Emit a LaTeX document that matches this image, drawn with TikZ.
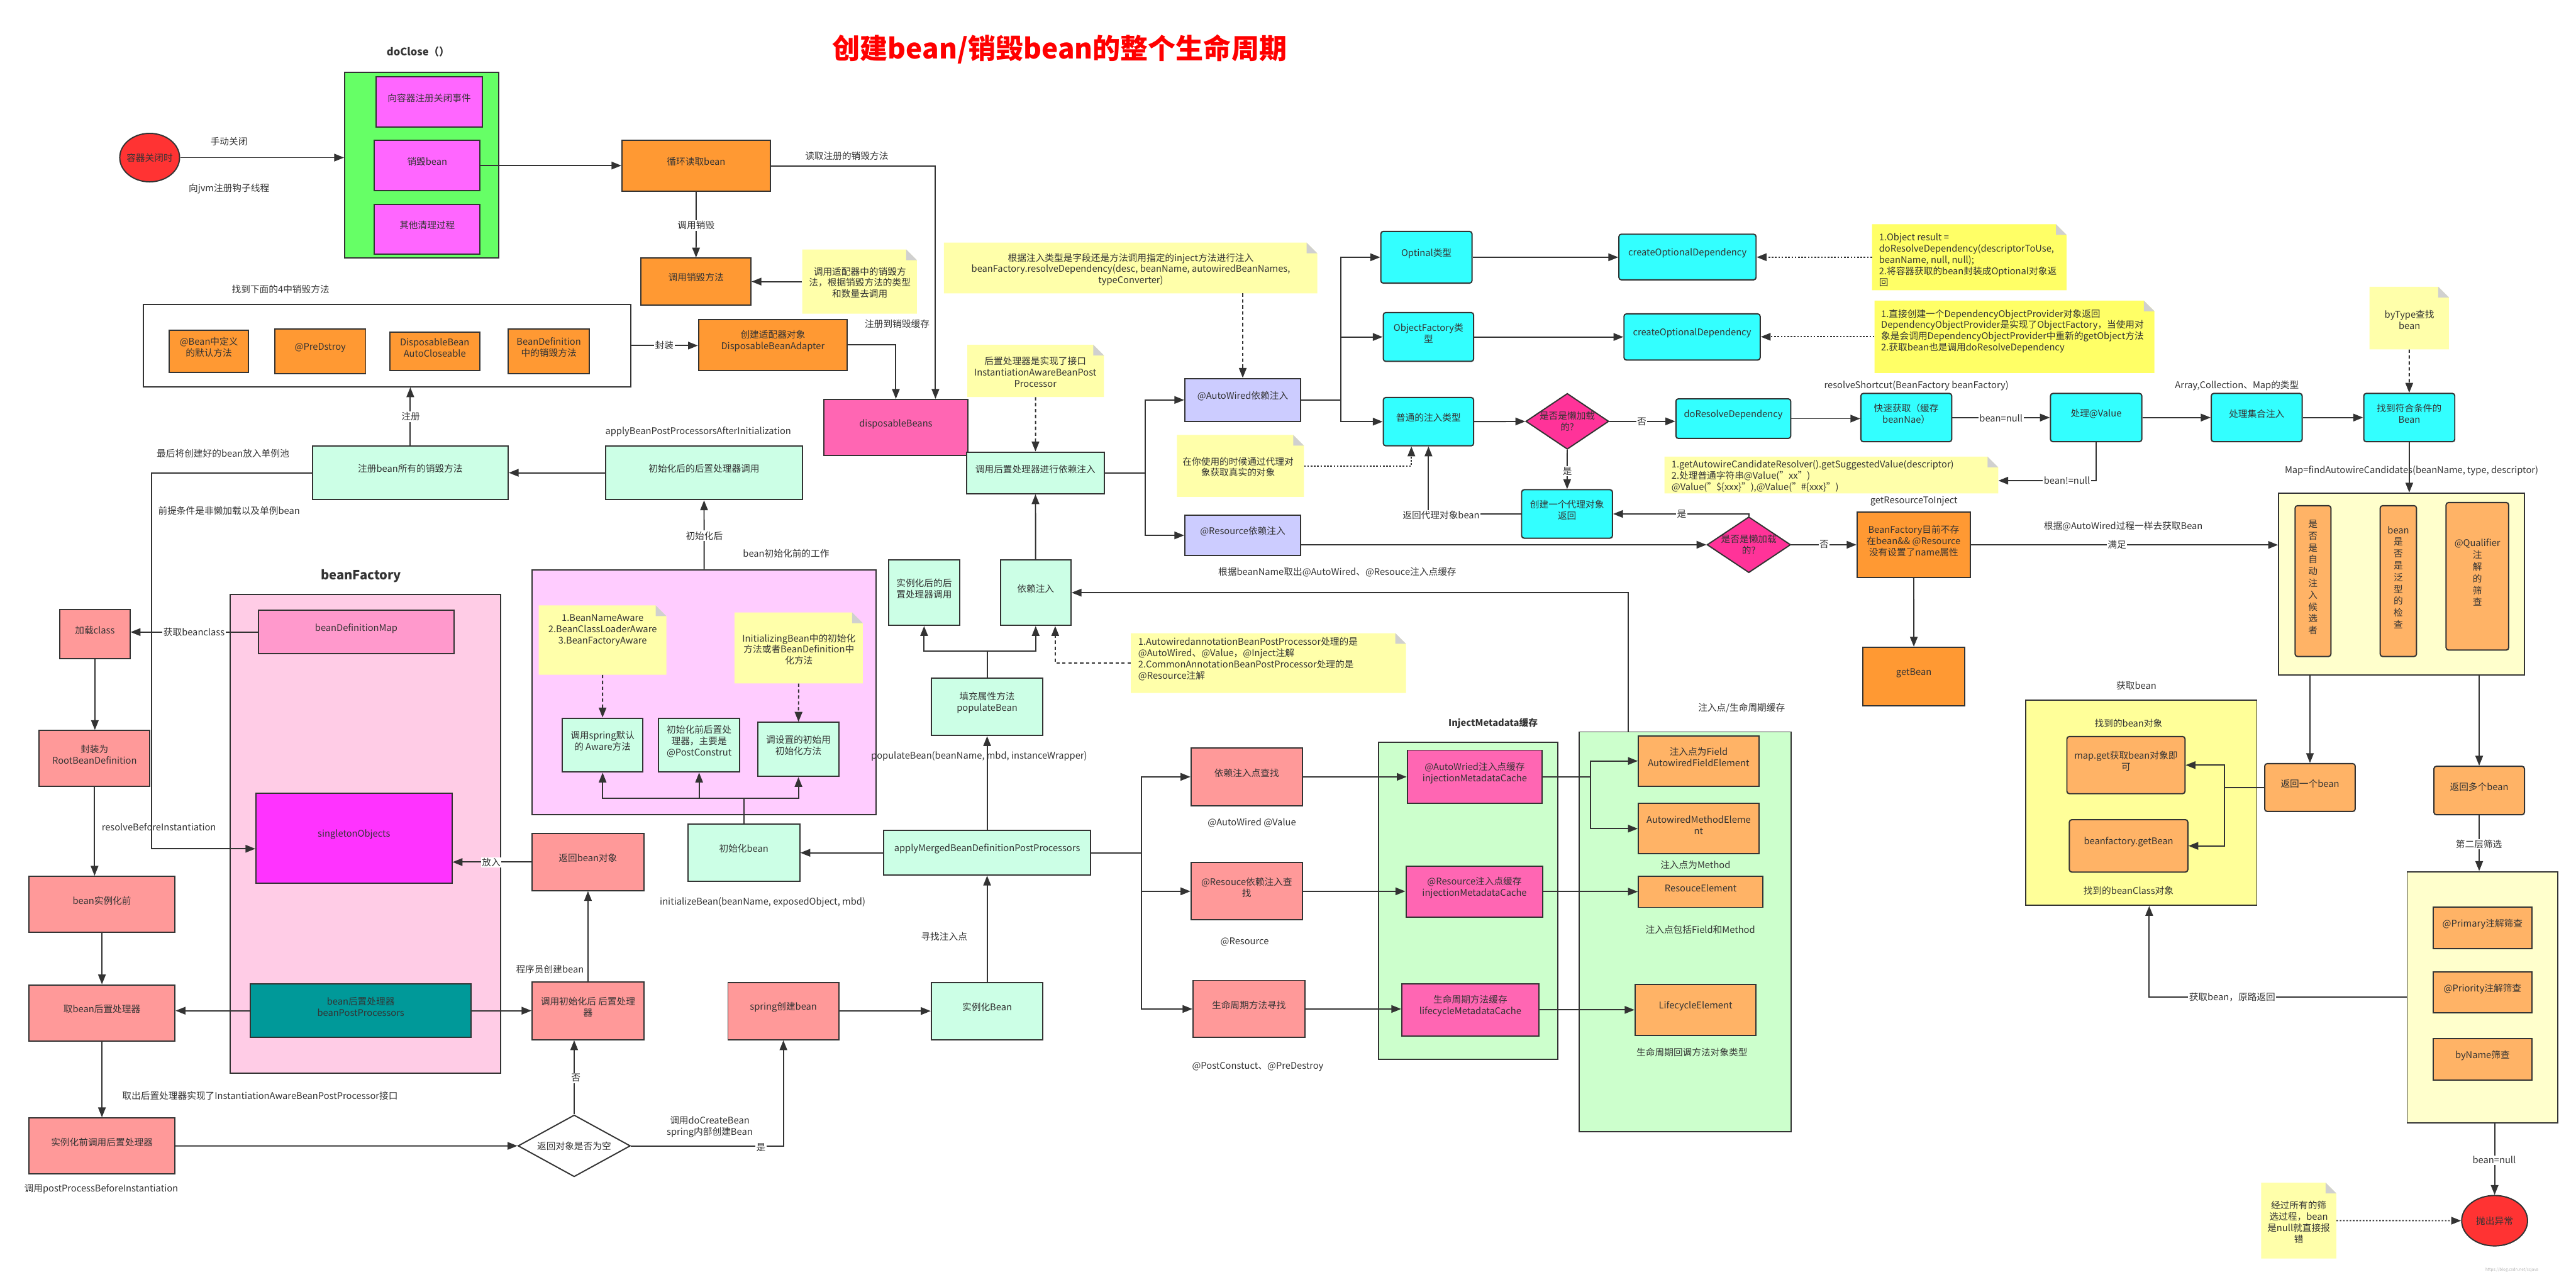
\documentclass[tikz,border=0pt]{standalone}
\usepackage{fontspec}
\setmainfont{Noto Sans CJK SC}
\usetikzlibrary{arrows.meta,fit,shapes.geometric}
\definecolor{lc}{HTML}{333333}
\definecolor{tc}{HTML}{333333}
\definecolor{cGreen}{HTML}{66FF66}
\definecolor{cMag}{HTML}{FF66FF}
\definecolor{cRed}{HTML}{FF3333}
\definecolor{cOr}{HTML}{FF9933}
\definecolor{cLor}{HTML}{FFB366}
\definecolor{cNote}{HTML}{FFFFAA}
\definecolor{cNoteB}{HTML}{FFFF66}
\definecolor{cFold}{HTML}{D0D0D0}
\definecolor{cMint}{HTML}{CCFFE6}
\definecolor{cSal}{HTML}{FF9999}
\definecolor{cPinkC}{HTML}{FFCCE6}
\definecolor{cBdm}{HTML}{FF99CC}
\definecolor{cSing}{HTML}{FF33FF}
\definecolor{cTeal}{HTML}{009999}
\definecolor{cLil}{HTML}{FFCCFF}
\definecolor{cHot}{HTML}{FF66B3}
\definecolor{cLav}{HTML}{CCCCFF}
\definecolor{cCyan}{HTML}{33FFFF}
\definecolor{cDia}{HTML}{FF3399}
\definecolor{cLg}{HTML}{CCFFCC}
\definecolor{cY1}{HTML}{FFFFCC}
\definecolor{cY2}{HTML}{FFFF99}
\newcommand\fs{\fontsize{16}{19.5}\selectfont}
\newcommand\fsv{\fontsize{16}{20.5}\selectfont}
\newcommand\mybox[7]{\node[#2, fit={(#3,#4) (#5,#6)}] (#1) {#7};}
\newcommand\mynote[6]{%
  \fill[#6] (#2,#3) -- (#4-6.5,#3) -- (#4,#3+6.5) -- (#4,#5) -- (#2,#5) -- cycle;
  \fill[cFold] (#4-6.5,#3) -- (#4-6.5,#3+6.5) -- (#4,#3+6.5) -- cycle;
  \node[inner sep=0pt, fit={(#2,#3) (#4,#5)}] (#1) {};}
\begin{document}
\begin{tikzpicture}[x=1mm,y=-1mm,
  bx/.style={draw=lc, line width=0.75mm, inner sep=0pt, align=center, font=\fs, text=tc},
  sOr/.style={bx, fill=cOr},
  sLor/.style={bx, fill=cLor},
  sLorR/.style={bx, fill=cLor, rounded corners=1.5mm},
  sMint/.style={bx, fill=cMint},
  sSal/.style={bx, fill=cSal},
  sMag/.style={bx, fill=cMag},
  sHot/.style={bx, fill=cHot},
  sLav/.style={bx, fill=cLav},
  sCy/.style={bx, fill=cCyan, rounded corners=1.5mm},
  arr/.style={draw=lc, line width=0.75mm, -{Triangle[length=6mm,width=4.6mm]}},
  dsh/.style={arr, dash pattern=on 2mm off 1.6mm},
  dotl/.style={arr, dash pattern=on 1mm off 1mm},
  lbl/.style={font=\fs, text=tc, inner sep=0.6mm, align=center},
  wl/.style={lbl, fill=white},
  ntx/.style={font=\fs, text=tc, inner sep=0pt, align=center}]
\fill[white] (0,0) rectangle (1568,777);
\useasboundingbox (0,0) rectangle (1568,777);

% ---------------- titles
\node[font=\fontsize{48}{52}\selectfont\bfseries, text=red] (title) at (645,29.8) {创建bean/销毁bean的整个生命周期};
\node[font=\fontsize{18}{20}\selectfont\bfseries, text=tc] (tdc) at (254.5,31.5) {doClose（）};
\node[font=\fontsize{22}{24}\selectfont\bfseries, text=tc] (tbf) at (219.8,350.5) {beanFactory};
\node[font=\fontsize{16}{18}\selectfont\bfseries, text=tc] (tim) at (908.8,440.0) {InjectMetadata缓存};

% ---------------- containers
\mybox{g}{bx, fill=cGreen}{209.8}{44.2}{303.5}{157.1}{}
\mybox{four}{bx, fill=white}{87.4}{185.3}{383.9}{235.3}{}
\mybox{bf}{bx, fill=cPinkC}{140.2}{361.8}{304.8}{652.9}{}
\mybox{lil}{bx, fill=cLil}{323.9}{346.7}{533.3}{495.6}{}
\mybox{ci}{bx, fill=cLg}{839.0}{451.6}{948.3}{644.7}{}
\mybox{c2}{bx, fill=cLg}{961.1}{445.4}{1090.2}{688.7}{}
\mybox{yc1}{bx, fill=cY1}{1387.0}{300.1}{1536.7}{410.8}{}
\mybox{yc2}{bx, fill=cY2}{1233.0}{426.2}{1373.7}{550.9}{}
\mybox{yc3}{bx, fill=cY1}{1465.2}{530.4}{1557.0}{683.2}{}

% ---------------- notes
\mynote{nA}{488.3}{151.8}{558.1}{190.9}{cNote}
\mynote{n4}{574.5}{147.6}{801.8}{178.5}{cNote}
\mynote{n2}{588.8}{209.8}{672.0}{241.6}{cNote}
\mynote{n5}{716.4}{264.7}{793.7}{302.4}{cNote}
\mynote{n3}{688.3}{385.3}{855.8}{421.7}{cNote}
\mynote{nba}{327.9}{368.4}{405.6}{410.6}{cNote}
\mynote{nib}{447.1}{372.7}{525.2}{415.9}{cNote}
\mynote{nA2}{1139.5}{136.4}{1257.9}{176.6}{cNoteB}
\mynote{nB}{1141.0}{182.9}{1311.4}{227.0}{cNoteB}
\mynote{nC}{1013.1}{277.9}{1216.3}{300.3}{cNote}
\mynote{nbt}{1442.3}{174.5}{1490.6}{212.6}{cNote}
\mynote{nex}{1376.3}{719.7}{1422.1}{765.9}{cNote}

\node[ntx] at (523.4,172) {调用适配器中的销毁方\\法，根据销毁方法的类型\\和数量去调用};
\node[ntx] at (688.3,164) {根据注入类型是字段还是方法调用指定的inject方法进行注入\\beanFactory.resolveDependency(desc, beanName, autowiredBeanNames,\\typeConverter)};
\node[ntx] at (630.2,226.3) {后置处理器是实现了接口\\InstantiationAwareBeanPost\\Processor};
\node[ntx] at (753.6,284.2) {在你使用的时候通过代理对\\象获取真实的对象};
\node[ntx, align=left, anchor=west] at (692.8,401) {1.AutowiredannotationBeanPostProcessor处理的是\\@AutoWired、@Value，@Inject注解\\ 2.CommonAnnotationBeanPostProcessor处理的是\\@Resource注解};
\node[ntx] at (366.8,383.4) {1.BeanNameAware\\2.BeanClassLoaderAware\\3.BeanFactoryAware};
\node[ntx] at (486.3,395.2) {InitializingBean中的初始化\\方法或者BeanDefinition中\\化方法};
\node[ntx, align=left, anchor=west] at (1143.7,158.2) {1.Object result =\\doResolveDependency(descriptorToUse,\\beanName, null, null);\\2.将容器获取的bean封装成Optional对象返\\回};
\node[ntx, align=left, anchor=west] at (1145,201.5) {1.直接创建一个DependencyObjectProvider对象返回\\DependencyObjectProvider是实现了ObjectFactory，当使用对\\象是会调用DependencyObjectProvider中重新的getObject方法\\2.获取bean也是调用doResolveDependency};
\node[ntx, align=left, anchor=west] at (1017.4,289.8) {1.getAutowireCandidateResolver().getSuggestedValue(descriptor)\\2.处理普通字符串@Value("xx")\\@Value("\$\{xxx\}"),@Value("\#\{xxx\}")};
\node[ntx] at (1466.6,194.5) {byType查找\\bean};
\node[ntx] at (1399.2,743.7) {经过所有的筛\\选过程，bean\\是null就直接报\\错};

% ---------------- doClose area
\mybox{m1}{sMag}{229.1}{46.7}{293.5}{77.2}{向容器注册关闭事件}
\mybox{m2}{sMag}{227.9}{85.5}{292.2}{116.0}{销毁bean}
\mybox{m3}{sMag}{227.9}{124.3}{292.2}{154.8}{其他清理过程}
\node[ellipse, draw=lc, line width=0.75mm, fill=cRed, minimum width=36.4mm, minimum height=29.5mm, inner sep=0pt] (c1) at (91.1,95.9) {};
\node[ntx] at (c1) {容器关闭时};
\mybox{loop}{sOr}{378.6}{85.5}{468.9}{116.3}{循环读取bean}
\mybox{cxff}{sOr}{390.2}{157.1}{457.1}{185.6}{调用销毁方法}
\mybox{dba}{sOr}{425.2}{194.5}{515.7}{225.4}{创建适配器对象\\DisposableBeanAdapter}
\mybox{disp}{sHot}{501.6}{243.1}{589.0}{277.3}{disposableBeans}
\mybox{f1}{sOr}{103}{200.8}{151.3}{226.7}{@Bean中定义\\的默认方法}
\mybox{f2}{sOr}{167.3}{200.2}{222.6}{227.3}{@PreDstroy}
\mybox{f3}{sOr}{237.2}{202.2}{292}{225.4}{DisposableBean\\AutoCloseable}
\mybox{f4}{sOr}{309.3}{200.2}{358.8}{227.3}{BeanDefinition\\中的销毁方法}

% ---------------- left column
\mybox{reg}{sMint}{190.2}{271.3}{309.3}{304.1}{注册bean所有的销毁方法}
\mybox{aft}{sMint}{368.8}{271.3}{488.3}{304.1}{初始化后的后置处理器调用}
\mybox{bdm}{bx, fill=cBdm}{157.3}{371.4}{276.4}{397.9}{beanDefinitionMap}
\mybox{sing}{bx, fill=cSing}{155.8}{482.9}{275.1}{537.3}{singletonObjects}
\mybox{bpp}{bx, fill=cTeal}{152.3}{598.7}{286.9}{631.4}{bean后置处理器\\beanPostProcessors}
\mybox{lc}{sSal}{36.4}{370.9}{79.1}{400.7}{加载class}
\mybox{rbd}{sSal}{23.9}{444.6}{91.2}{478.4}{封装为\\RootBeanDefinition}
\mybox{bi}{sSal}{17.6}{533.3}{106.5}{567.4}{bean实例化前}
\mybox{gp}{sSal}{17.6}{599.4}{106.5}{633.4}{取bean后置处理器}
\mybox{bic}{sSal}{17.6}{680.3}{106.5}{714.4}{实例化前调用后置处理器}
\node[diamond, draw=lc, line width=0.75mm, fill=white, minimum width=68.4mm, minimum height=37.6mm, inner sep=0pt] (dnull) at (349.5,697.3) {};
\node[ntx] at (dnull) {返回对象是否为空};
\mybox{rbo}{sSal}{323.9}{507.3}{391.9}{541.9}{返回bean对象}
\mybox{cia}{sSal}{323.9}{597.7}{391.9}{632.7}{调用初始化后 后置处理\\器}

% ---------------- init area
\mybox{aw1}{sMint}{342.2}{437.0}{391.4}{469.8}{调用spring默认\\的 Aware方法}
\mybox{pre1}{sMint}{400.8}{437.0}{450.3}{469.8}{初始化前后置处\\理器，主要是\\@PostConstrut}
\mybox{set1}{sMint}{461.4}{439.6}{510.6}{472.5}{调设置的初始用\\初始化方法}
\mybox{initb}{sMint}{418.7}{501.3}{486.8}{536.4}{初始化bean}
\mybox{amb}{sMint}{538.0}{505.4}{663.7}{532.5}{applyMergedBeanDefinitionPostProcessors}
\mybox{scb}{sSal}{443.1}{597.8}{510.6}{632.7}{spring创建bean}
\mybox{ib}{sMint}{566.9}{597.8}{634.8}{632.7}{实例化Bean}
\mybox{pb}{sMint}{566.9}{412.6}{634.8}{447.6}{填充属性方法\\populateBean}
\mybox{iap}{sMint}{541.0}{340.7}{584.0}{380.6}{实例化后的后\\置处理器调用}
\mybox{di}{sMint}{608.9}{340.7}{651.9}{380.6}{依赖注入}
\mybox{cpd}{sMint}{588.3}{275.1}{672.2}{300.4}{调用后置处理器进行依赖注入}

% ---------------- injection area
\mybox{aw}{sLav}{721.2}{230.3}{791.7}{256.5}{@AutoWired依赖注入}
\mybox{rs}{sLav}{721.2}{313.4}{791.7}{338.2}{@Resource依赖注入}
\mybox{opt}{sCy}{840.5}{140.8}{896.0}{172.3}{Optinal类型}
\mybox{of}{sCy}{842.0}{190.2}{897.0}{219.9}{ObjectFactory类\\型}
\mybox{pt}{sCy}{842.0}{241.9}{897.0}{271.3}{普通的注入类型}
\mybox{co1}{sCy}{985.4}{142.5}{1068.9}{170.3}{createOptionalDependency}
\mybox{co2}{sCy}{988.5}{191.0}{1071.4}{219.1}{createOptionalDependency}
\node[diamond, draw=lc, line width=0.75mm, fill=cDia, minimum width=50.5mm, minimum height=34mm, inner sep=0pt] (dl1) at (954,256.4) {};
\node[ntx] at (dl1) {是否是懒加载\\的?};
\mybox{drd}{sCy}{1020.1}{242.7}{1090.0}{266.8}{doResolveDependency}
\mybox{qg}{sCy}{1132.7}{239.4}{1188.0}{268.8}{快速获取（缓存\\beanNae）}
\mybox{pv}{sCy}{1248.1}{239.4}{1303.7}{268.8}{处理@Value}
\mybox{pc}{sCy}{1346.0}{239.4}{1401.3}{268.8}{处理集合注入}
\mybox{fb}{sCy}{1438.8}{239.4}{1494.2}{268.8}{找到符合条件的\\Bean}
\mybox{proxy}{sCy}{926.2}{298.0}{981.5}{327.5}{创建一个代理对象\\返回}
\node[diamond, draw=lc, line width=0.75mm, fill=cDia, minimum width=50.9mm, minimum height=34mm, inner sep=0pt] (dl2) at (1064.5,331.5) {};
\node[ntx] at (dl2) {是否是懒加载\\的?};
\mybox{bfx}{sOr}{1130.4}{311.7}{1199.3}{351.5}{BeanFactory目前不存\\在bean\&\& @Resource\\没有设置了name属性}
\mybox{gb}{sOr}{1133.9}{393.9}{1196.0}{429.4}{getBean}

% ---------------- candidate area
\mybox{v1}{sLorR, font=\fsv}{1397.0}{307.7}{1418.8}{399.5}{是\\否\\是\\自\\动\\注\\入\\候\\选\\者}
\mybox{v2}{sLorR, font=\fsv}{1448.8}{307.7}{1470.9}{399.5}{bean\\是\\否\\是\\泛\\型\\的\\检\\查}
\mybox{v3}{sLorR, font=\fsv}{1488.9}{305.8}{1527.0}{395.6}{@Qualifier\\注\\解\\的\\筛\\查}
\mybox{r1}{sLorR}{1378.5}{464.7}{1433.6}{493.8}{返回一个bean}
\mybox{rm}{sLorR}{1481.5}{466.3}{1536.6}{495.8}{返回多个bean}
\mybox{mg}{sLorR}{1258.1}{448.2}{1330.0}{483.0}{map.get获取bean对象即\\可}
\mybox{bg}{sLorR}{1259.6}{498.8}{1331.7}{530.7}{beanfactory.getBean}
\mybox{p1}{sLor}{1481.2}{552.1}{1541.0}{577.1}{@Primary注解筛查}
\mybox{p2}{sLor}{1481.2}{591.6}{1541.0}{616.4}{@Priority注解筛查}
\mybox{p3}{sLor}{1481.2}{632.1}{1541.0}{657.1}{byName筛查}
\node[ellipse, draw=lc, line width=0.75mm, fill=cRed, minimum width=40.1mm, minimum height=30.7mm, inner sep=0pt] (ex) at (1518.45,742.85) {};
\node[ntx] at (ex) {抛出异常};

% ---------------- metadata area
\mybox{fi}{sSal}{725.0}{455.2}{792.7}{490.3}{依赖注入点查找}
\mybox{rf}{sSal}{725.0}{525.0}{792.7}{559.8}{@Resouce依赖注入查\\找}
\mybox{lf}{sSal}{726.2}{596.6}{794.2}{631.4}{生命周期方法寻找}
\mybox{cA}{sHot}{856.6}{456.5}{938.7}{489.0}{@AutoWried注入点缓存\\injectionMetadataCache}
\mybox{cR}{sHot}{855.8}{527.1}{939.2}{558.1}{@Resource注入点缓存\\injectionMetadataCache}
\mybox{cL}{sHot}{853.3}{598.7}{936.7}{630.4}{生命周期方法缓存\\lifecycleMetadataCache}
\mybox{ef}{sLor}{997.3}{447.8}{1070.6}{478.4}{注入点为Field\\AutowiredFieldElement}
\mybox{em}{sLor}{997.3}{488.9}{1070.6}{519.6}{AutowiredMethodEleme\\nt}
\mybox{er}{sLor}{997.3}{533.1}{1073.1}{552.2}{ResouceElement}
\mybox{el}{sLor}{995.3}{599.2}{1068.9}{630.1}{LifecycleElement}

% ---------------- connectors
\draw[arr] (c1) -- (c1 -| g.west);
\draw[arr] (m2.east) -- (m2.east -| loop.west);
\draw[arr] (loop.east) -| ([xshift=24.1mm]disp.north);
\draw[arr] (loop) -- (cxff);
\draw[arr] (nA.west) -- (nA.west -| cxff.east);
\draw[arr] (four.east) -- (four.east -| dba.west);
\draw[arr] (dba.east) -| (disp.north);
\draw[arr] (reg.north) -- (reg.north |- four.south);
\draw[arr] (aft.west) -- (reg.east);
\draw[arr] (reg.west) -- ++(-97.5,0) |- ([yshift=-6.4mm]sing.west);
\draw[arr] (bdm.west) -- (bdm.west -| lc.east);
\draw[arr] (lc) -- (lc |- rbd.north);
\draw[arr] (rbd.south) -- (rbd.south |- bi.north);
\draw[arr] (bi) -- (gp);
\draw[arr] (bpp.west) -- (bpp.west -| gp.east);
\draw[arr] (bpp.east) -- (bpp.east -| cia.west);
\draw[arr] (cia) -- (rbo);
\draw[arr] (rbo.west) -- (rbo.west -| sing.east);
\draw[arr] (gp) -- (bic);
\draw[arr] (bic) -- (dnull);
\draw[arr] (dnull.north) -- (dnull.north |- cia.south);
\draw[arr] (dnull.east) -| (scb.south);
\draw[arr] (scb) -- (ib);
\draw[arr] (ib) -- (amb);
\draw[arr] (amb.west) -- (amb.west -| initb.east);
\draw[arr] (amb) -- (pb);
\draw[arr] (pb.north) -- ++(0,-16) -| (iap.south);
\draw[arr] (pb.north) -- ++(0,-16) -| (di.south);
\draw[dsh] (n3.west) -| ([xshift=11.9mm]di.south);
\draw[arr] (di) -- (cpd);
\draw[dsh] (n2) -- (cpd);
\draw[arr] ([xshift=-34.45mm]c2.north) |- (di.east);
\draw[arr] (cpd.east) -- ++(24.4,0) |- (aw.west);
\draw[arr] (cpd.east) -- ++(24.4,0) |- (rs.west);
\draw[dsh] (aw.north |- n4.south) -- (aw.north);
\draw[dotl] (n5.east) -| ([xshift=-10.4mm]pt.south);
\draw[arr] (aw.east) -- ++(24.2,0) |- (opt.west);
\draw[arr] (aw.east) -- ++(24.2,0) |- (of.west);
\draw[arr] (aw.east) -- ++(24.2,0) |- (pt.west);
\draw[arr] (opt) -- (opt -| co1.west);
\draw[arr] (of) -- (of -| co2.west);
\draw[dotl] (nA2.west) -- (nA2.west -| co1.east);
\draw[dotl] (nB.west) -- (nB.west -| co2.east);
\draw[arr] (pt) -- (dl1);
\draw[arr] (dl1.east) -- (dl1.east -| drd.west);
\draw[arr] (dl1) -- (proxy);
\draw[arr] (proxy.west) -| (pt.south);
\draw[arr] (rs.east |- dl2.west) -- (dl2.west);
\draw[arr] (dl2.north) |- (proxy.east);
\draw[arr] (dl2.east) -- (dl2.east -| bfx.west);
\draw[arr] (bfx) -- (gb);
\draw[arr] (bfx.east) -- (bfx.east -| yc1.west);
\draw[arr] (drd.east) -- (drd.east -| qg.west);
\draw[arr] (qg) -- (pv);
\draw[arr] (pv) -- (pc);
\draw[arr] (pc) -- (fb);
\draw[arr] (pv.south) |- ([yshift=-3.4mm]nC.east);
\draw[dsh] (nbt) -- (fb);
\draw[arr] (fb.south) -- (fb.south |- yc1.north);
\draw[arr] (r1.north |- yc1.south) -- (r1.north);
\draw[arr] (rm.north |- yc1.south) -- (rm.north);
\draw[arr] (r1.west) -- ++(-24.3,0) |- (mg.east);
\draw[arr] (r1.west) -- ++(-24.3,0) |- (bg.east);
\draw[arr] (rm) -- (rm |- yc3.north);
\draw[arr] (yc3.west) -| ([xshift=4.85mm]yc2.south);
\draw[arr] (ex.north |- yc3.south) -- (ex.north);
\draw[dotl] (nex) -- (ex);
\draw[arr] (amb.east) -- ++(30.6,0) |- (fi.west);
\draw[arr] (amb.east) -- ++(30.6,0) |- (rf.west);
\draw[arr] (amb.east) -- ++(30.6,0) |- (lf.west);
\draw[arr] (fi) -- (fi -| cA.west);
\draw[arr] (rf) -- (rf -| cR.west);
\draw[arr] (lf) -- (lf -| cL.west);
\draw[arr] (cA.east) -- ++(29.2,0) |- (ef.west);
\draw[arr] (cA.east) -- ++(29.2,0) |- (em.west);
\draw[arr] (cR) -- (cR -| er.west);
\draw[arr] (cL) -- (cL -| el.west);
\draw[arr] (initb.north) -- ++(0,-15) -| (aw1.south);
\draw[arr] (initb.north) -- ++(0,-15) -| (pre1.south);
\draw[arr] (initb.north) -- ++(0,-15) -| (set1.south);
\draw[dsh] (nba) -- (aw1);
\draw[dsh] (nib) -- (set1);
\draw[arr] (lil) -- (aft);

% ---------------- free labels
\node[lbl] at (139.4,86.2) {手动关闭};
\node[lbl] at (139.4,114.7) {向jvm注册钩子线程};
\node[lbl] at (515.4,94.8) {读取注册的销毁方法};
\node[lbl] at (170.8,176.1) {找到下面的4中销毁方法};
\node[lbl] at (546.1,197.2) {注册到销毁缓存};
\node[lbl] at (135.7,275.9) {最后将创建好的bean放入单例池};
\node[lbl] at (139.4,310.7) {前提条件是非懒加载以及单例bean};
\node[lbl] at (425,262.7) {applyBeanPostProcessorsAfterInitialization};
\node[lbl] at (96.7,503.3) {resolveBeforeInstantiation};
\node[lbl, anchor=east] at (356,590) {程序员创建bean};
\node[lbl] at (158.3,666.7) {取出后置处理器实现了InstantiationAwareBeanPostProcessor接口};
\node[lbl] at (61.6,723.6) {调用postProcessBeforeInstantiation};
\node[lbl] at (432,685.6) {调用doCreateBean\\spring内部创建Bean};
\node[lbl] at (464.2,549.0) {initializeBean(beanName, exposedObject, mbd)};
\node[lbl] at (574.7,570.1) {寻找注入点};
\node[lbl] at (596,460.2) {populateBean(beanName, mbd, instanceWrapper)};
\node[lbl] at (478.5,336.9) {bean初始化前的工作};
\node[lbl] at (814,348.3) {根据beanName取出@AutoWired、@Resouce注入点缓存};
\node[lbl] at (762,500.6) {@AutoWired @Value};
\node[lbl] at (757.6,573.4) {@Resource};
\node[lbl] at (765.6,649.3) {@PostConstuct、@PreDestroy};
\node[lbl] at (1060.1,430.9) {注入点/生命周期缓存};
\node[lbl] at (1032,526.2) {注入点为Method};
\node[lbl] at (1035,565.7) {注入点包括Field和Method};
\node[lbl] at (1029.9,640.4) {生命周期回调方法对象类型};
\node[lbl] at (1166.5,234.6) {resolveShortcut(BeanFactory beanFactory)};
\node[lbl] at (1361.6,234.6) {Array,Collection、Map的类型};
\node[lbl] at (1165,304.9) {getResourceToInject};
\node[lbl] at (1292.4,320.2) {根据@AutoWired过程一样去获取Bean};
\node[lbl] at (1467.9,286.4) {Map=findAutowireCandidates(beanName, type, descriptor)};
\node[lbl] at (1300.4,417.1) {获取bean};
\node[lbl] at (1295.6,440.0) {找到的bean对象};
\node[lbl] at (1295.6,542.1) {找到的beanClass对象};
\node[font=\fontsize{7}{8}\selectfont, text=black!30] at (1529,772.9) {https://blog.csdn.net/scjava};

% ---------------- labels on connectors
\node[wl] at (250,253.5) {注册};
\node[wl] at (423.7,137.2) {调用销毁};
\node[wl] at (404.4,210.3) {封装};
\node[wl] at (118.1,384.6) {获取beanclass};
\node[wl] at (299,524.8) {放入};
\node[wl] at (350.5,656) {否};
\node[wl] at (463.2,698.2) {是};
\node[wl] at (428.7,326) {初始化后};
\node[wl] at (999.3,256.5) {否};
\node[wl] at (954,286.7) {是};
\node[wl] at (877.2,313.5) {返回代理对象bean};
\node[wl] at (1023.6,312.7) {是};
\node[wl] at (1110.3,331.4) {否};
\node[wl] at (1288.6,331.4) {满足};
\node[wl] at (1218,254.6) {bean=null};
\node[wl] at (1258.1,292.5) {bean!=null};
\node[wl] at (1508.9,513.7) {第二层筛选};
\node[wl] at (1358.7,606.7) {获取bean，原路返回};
\node[wl] at (1518.2,705.9) {bean=null};
\end{tikzpicture}
\end{document}
